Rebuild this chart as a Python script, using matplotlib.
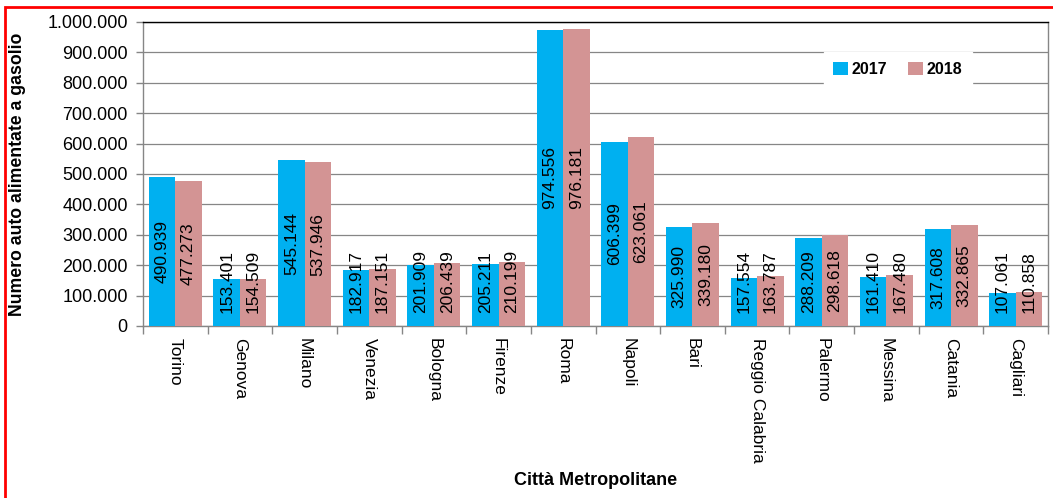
import matplotlib
matplotlib.use('Agg')
import matplotlib.pyplot as plt
import matplotlib.patches as patches
import numpy as np

# Città metropolitane, auto alimentate a gasolio
cities = ['Torino', 'Genova', 'Milano', 'Venezia', 'Bologna', 'Firenze', 'Roma',
          'Napoli', 'Bari', 'Reggio Calabria', 'Palermo', 'Messina', 'Catania', 'Cagliari']
auto_2017 = [490939, 153401, 545144, 182917, 201909, 205211, 974556,
             606399, 325990, 157554, 288209, 161410, 317608, 107061]
auto_2018 = [477273, 154509, 537946, 187151, 206439, 210199, 976181,
             623061, 339180, 163787, 298618, 167480, 332865, 110858]
years = ['2017', '2018']

blue = '#00B0F0'
pink = '#D39494'
grey = '#868686'
plt.rcParams['font.family'] = ['Liberation Sans', 'DejaVu Sans']


def it_fmt(v):
    return f'{int(v):,}'.replace(',', '.')


fig = plt.figure(figsize=(10.53, 4.98), dpi=100)
ax = fig.add_axes([143 / 1053, 172 / 498, 905 / 1053, 304 / 498])

x = np.arange(len(cities))
w = 0.41
b1 = ax.bar(x - w / 2, auto_2017, w, color=blue, label=years[0], zorder=3)
b2 = ax.bar(x + w / 2, auto_2018, w, color=pink, label=years[1], zorder=3)

# data labels, centred in the bar but kept above the axis for short bars
for bars, vals in [(b1, auto_2017), (b2, auto_2018)]:
    for r, v in zip(bars, vals):
        yc = max(v / 2, 145000)
        ax.text(r.get_x() + r.get_width() / 2, yc, it_fmt(v), rotation=90,
                ha='center', va='center', fontsize=12.5, color='black', zorder=4)

ax.set_xlim(-0.5, len(cities) - 0.5)
ax.set_ylim(0, 1000000)
ax.set_yticks(np.arange(0, 1000001, 100000))
ax.set_yticklabels([it_fmt(v) for v in np.arange(0, 1000001, 100000)], fontsize=13)
ax.set_xticks(x)
ax.set_xticklabels(cities, rotation=-90, fontsize=12.5, va='top', ha='center')
ax.set_xticks(np.arange(-0.5, len(cities), 1), minor=True)
ax.tick_params(axis='x', which='major', length=0, pad=9)
ax.tick_params(axis='x', which='minor', length=6, color=grey, width=1)
ax.tick_params(axis='y', length=5, color=grey, width=1, pad=6)

ax.grid(axis='y', color=grey, linewidth=0.9, zorder=0)
ax.set_axisbelow(True)
for s in ['left', 'bottom', 'right']:
    ax.spines[s].set_color(grey)
    ax.spines[s].set_linewidth(1.0)
ax.spines['top'].set_color('black')
ax.spines['top'].set_linewidth(1.0)

ax.set_ylabel('Numero auto alimentate a gasolio', fontsize=12.7, fontweight='bold',
              va='center')
ax.yaxis.set_label_coords(-125 / 905, 0.5)
ax.set_xlabel('Città Metropolitane', fontsize=13, fontweight='bold', va='center')
ax.xaxis.set_label_coords(0.5, -154 / 304)

leg = ax.legend(loc='center', bbox_to_anchor=(0.834, 0.845), ncol=2, frameon=True,
                fancybox=False, edgecolor='white', framealpha=1, handlelength=0.9,
                handleheight=0.9, handletextpad=0.25, columnspacing=1.3,
                borderpad=0.6, prop={'weight': 'bold', 'size': 11.5})
leg.set_zorder(5)

# red frame around the picture
fig.patches.append(patches.Rectangle((5 / 1053, -0.1), 1.2, 1 - 7 / 498 + 0.1,
                                     transform=fig.transFigure, fill=False,
                                     edgecolor='red', linewidth=2.0))

fig.savefig('out.png', dpi=100, facecolor='white')
